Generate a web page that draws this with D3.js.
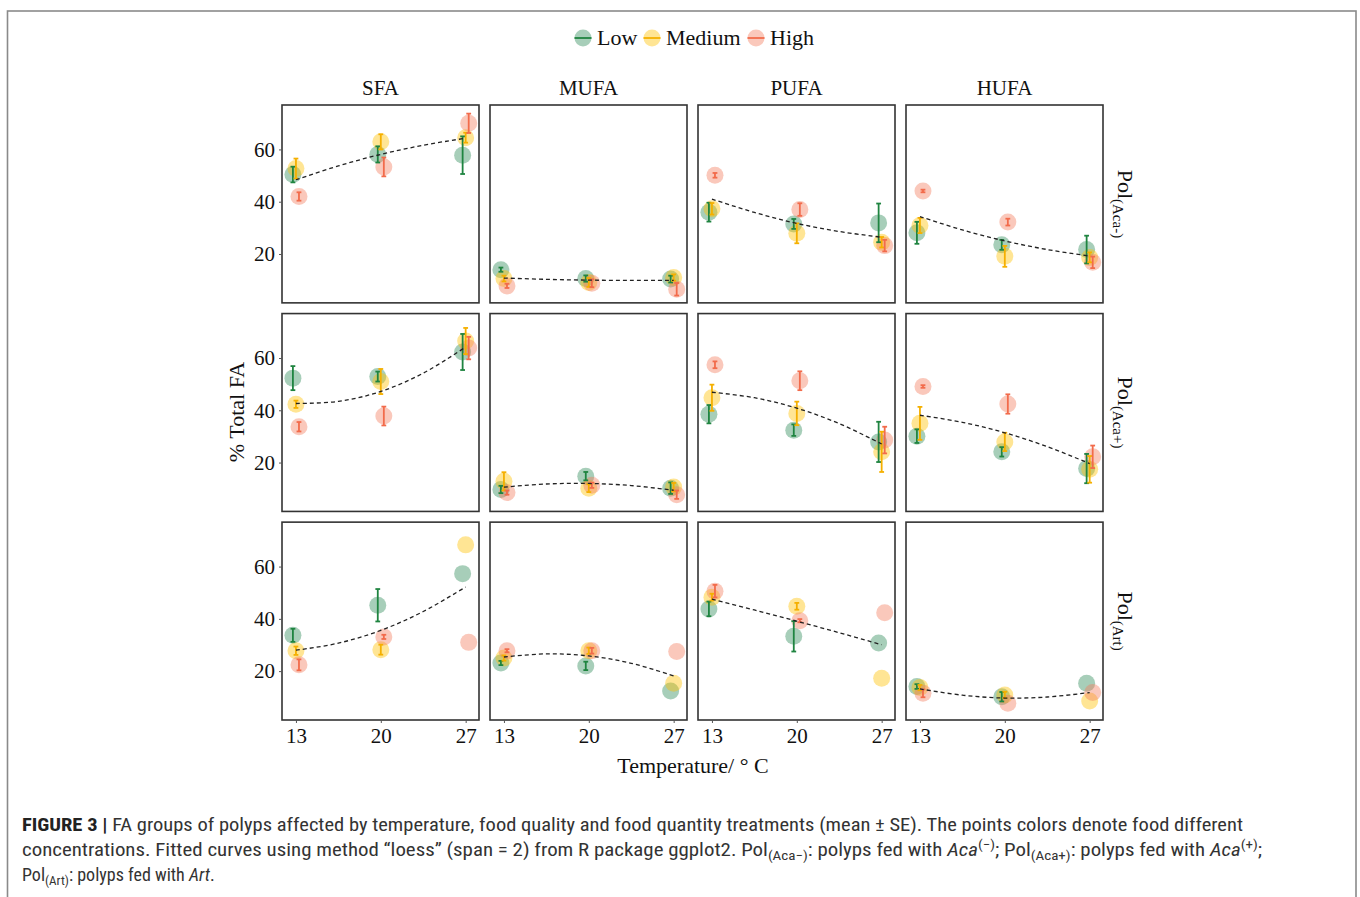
<!DOCTYPE html>
<html>
<head>
<meta charset="utf-8">
<script src="https://cdn.jsdelivr.net/npm/d3@7"></script>
<style>
  body { margin: 0; background: #fff; }
  svg { display: block; }
</style>
</head>
<body>
<svg id="chart"></svg>
<script>
// ---- data ----
const temps = [13, 20, 27]
const foods = ['Low', 'Medium', 'High']
const groups = ['SFA', 'MUFA', 'PUFA', 'HUFA']
const diets = ['Aca-', 'Aca+', 'Art']
const yTicks = [20, 40, 60]
const fitTemps = [13, 16.5, 20, 23.5, 27]

// [group][food][temp]
const acaMinusMean = [
  [[50.4, 58.1, 57.8], [52.7, 62.9, 64.5], [42.0, 53.3, 70.0]],
  [[14.0, 10.6, 10.4], [10.6, 9.1, 11.0], [7.8, 8.8, 6.5]],
  [[36.0, 31.5, 31.9], [37.3, 27.9, 24.5], [50.1, 37.0, 23.2]],
  [[28.1, 23.5, 21.7], [30.9, 19.1, 18.7], [44.1, 32.2, 16.8]]
]
const acaMinusSE = [
  [[3.0, 3.1, 7.2], [3.8, 2.9, 1.9], [1.6, 3.6, 3.7]],
  [[0.8, 1.2, 1.3], [1.1, 1.7, 1.2], [0.8, 1.5, 2.4]],
  [[3.6, 1.9, 7.4], [2.2, 3.8, 2.0], [0.9, 2.4, 2.2]],
  [[4.2, 1.9, 5.3], [2.9, 4.0, 1.9], [0.5, 1.3, 2.2]]
]
const acaPlusMean = [
  [[52.3, 52.9, 62.3], [42.3, 51.0, 66.5], [33.7, 37.8, 63.8]],
  [[9.7, 14.8, 10.2], [12.8, 10.2, 10.6], [8.5, 11.3, 7.7]],
  [[38.5, 32.4, 27.9], [44.8, 38.8, 24.1], [57.4, 51.3, 28.6]],
  [[30.1, 24.1, 17.7], [35.0, 27.9, 17.4], [49.1, 42.4, 22.2]]
]
const acaPlusSE = [
  [[4.6, 1.9, 6.9], [1.4, 4.8, 5.0], [1.8, 3.6, 4.3]],
  [[1.4, 1.6, 2.2], [3.5, 1.5, 1.6], [0.8, 1.0, 1.6]],
  [[3.5, 2.2, 7.7], [5.0, 4.5, 7.7], [1.3, 3.6, 5.1]],
  [[2.6, 1.8, 5.6], [6.3, 3.5, 5.1], [0.5, 3.7, 4.3]]
]
const artMean = [
  [[33.7, 45.2, 57.3], [27.8, 28.2, 68.3], [22.4, 33.1, 31.0]],
  [[23.1, 22.0, 12.4], [25.0, 27.8, 15.4], [27.8, 27.8, 27.5]],
  [[43.8, 33.3, 30.8], [48.3, 44.8, 17.3], [50.6, 39.3, 42.3]],
  [[14.1, 10.2, 15.4], [13.7, 10.9, 8.6], [11.5, 7.7, 11.8]]
]
const artSE = [
  [[2.5, 6.2, 0], [1.6, 1.9, 0], [2.1, 0.8, 0]],
  [[0.8, 1.6, 0], [1.0, 1.2, 0], [0.6, 1.1, 0]],
  [[2.8, 5.8, 0], [1.3, 1.3, 0], [2.4, 0.6, 0]],
  [[0.9, 1.8, 0], [1.0, 1.2, 0], [1.5, 0, 0]]
]
// loess curve read at fitTemps, [group]
const acaMinusFit = [
  [48.4, 53.7, 58.1, 61.6, 64.3],
  [10.8, 10.3, 10.0, 9.9, 9.9],
  [41.0, 35.9, 31.7, 28.6, 26.4],
  [34.3, 29.2, 25.0, 21.7, 19.2]
]
const acaPlusFit = [
  [42.6, 43.4, 47.2, 54.2, 64.2],
  [10.6, 11.8, 12.0, 11.2, 9.4],
  [46.9, 44.8, 40.8, 34.9, 27.1],
  [38.1, 35.4, 31.4, 26.1, 19.6]
]
const artFit = [
  [28.0, 30.7, 35.6, 42.8, 52.2],
  [25.4, 26.6, 25.8, 23.0, 18.2],
  [47.5, 43.4, 39.1, 34.7, 30.1],
  [13.2, 10.8, 9.7, 10.1, 11.8]
]

const means = [acaMinusMean, acaPlusMean, artMean]
const ses = [acaMinusSE, acaPlusSE, artSE]
const fits = [acaMinusFit, acaPlusFit, artFit]

// ---- layout ----
const width = 1360
const height = 897
const serif = '"Liberation Serif", "Times New Roman", serif'
const fillColor = {Low: '#2e8b57', Medium: '#ffc000', High: '#f47c5c'}
const barColor = {Low: '#1f8440', Medium: '#f5b000', High: '#f26b4b'}
const dodge = {Low: -0.25, Medium: 0, High: 0.25}

const svg = d3.select('#chart')
    .attr('width', width)
    .attr('height', height)

// outer frame
svg.append('rect')
    .attr('x', 7.5).attr('y', 11)
    .attr('width', 1348.5).attr('height', 900)
    .attr('fill', 'none')
    .attr('stroke', '#8a8a8a')
    .attr('stroke-width', 1.6)

const colScale = d3.scaleBand().domain(groups).range([282, 1103]).paddingInner(0.0529)
const rowScale = d3.scaleBand().domain(diets).range([105, 720]).paddingInner(0.0513)
const pw = colScale.bandwidth()
const ph = rowScale.bandwidth()

const x = d3.scaleLinear().domain([11.85, 28.1]).range([0, pw])
const y = d3.scaleLinear().domain([1.3, 77]).range([ph, 0])

const line = d3.line()
    .x(d => x(d[0]))
    .y(d => y(d[1]))
    .curve(d3.curveCatmullRom)

diets.forEach((diet, r) => {
  groups.forEach((grp, c) => {
    const g = svg.append('g')
        .attr('transform', `translate(${colScale(grp)},${rowScale(diet)})`)

    const pts = []
    foods.forEach((f, fi) => {
      temps.forEach((t, ti) => {
        pts.push({food: f, t: t, v: means[r][c][fi][ti], se: ses[r][c][fi][ti]})
      })
    })

    g.selectAll('circle').data(pts)
      .enter().append('circle')
        .attr('cx', d => x(d.t + dodge[d.food]))
        .attr('cy', d => y(d.v))
        .attr('r', 8.5)
        .attr('fill', d => fillColor[d.food])
        .attr('fill-opacity', 0.42)

    const bars = g.selectAll('.eb').data(pts.filter(d => d.se > 0))
      .enter().append('g')
        .attr('class', 'eb')
        .attr('stroke', d => barColor[d.food])
        .attr('stroke-width', 1.8)
    bars.append('line')
        .attr('x1', d => x(d.t + dodge[d.food])).attr('x2', d => x(d.t + dodge[d.food]))
        .attr('y1', d => y(d.v - d.se)).attr('y2', d => y(d.v + d.se))
    bars.append('line')
        .attr('x1', d => x(d.t + dodge[d.food]) - 2.4).attr('x2', d => x(d.t + dodge[d.food]) + 2.4)
        .attr('y1', d => y(d.v - d.se)).attr('y2', d => y(d.v - d.se))
    bars.append('line')
        .attr('x1', d => x(d.t + dodge[d.food]) - 2.4).attr('x2', d => x(d.t + dodge[d.food]) + 2.4)
        .attr('y1', d => y(d.v + d.se)).attr('y2', d => y(d.v + d.se))

    g.append('path')
        .datum(fitTemps.map((t, i) => [t, fits[r][c][i]]))
        .attr('d', line)
        .attr('fill', 'none')
        .attr('stroke', '#222')
        .attr('stroke-width', 1.3)
        .attr('stroke-dasharray', '4,3')

    g.append('rect')
        .attr('width', pw).attr('height', ph)
        .attr('fill', 'none')
        .attr('stroke', '#333')
        .attr('stroke-width', 1.6)

    if (c === 0) {
      const ay = g.append('g').call(d3.axisLeft(y).tickValues(yTicks).tickSize(3).tickPadding(4))
      ay.select('.domain').remove()
      ay.selectAll('line').attr('stroke', '#555')
      ay.selectAll('text').attr('font-family', serif).attr('font-size', 21).attr('fill', '#111')
    }
    if (r === diets.length - 1) {
      const ax = g.append('g')
          .attr('transform', `translate(0,${ph})`)
          .call(d3.axisBottom(x).tickValues(temps).tickSize(3).tickPadding(5))
      ax.select('.domain').remove()
      ax.selectAll('line').attr('stroke', '#555')
      ax.selectAll('text').attr('font-family', serif).attr('font-size', 21).attr('fill', '#111')
    }
    if (r === 0) {
      svg.append('text')
          .attr('x', colScale(grp) + pw / 2).attr('y', 95)
          .attr('text-anchor', 'middle')
          .attr('font-family', serif).attr('font-size', 21).attr('fill', '#111')
          .text(grp)
    }
  })

  // strip label on the right
  const st = svg.append('text')
      .attr('transform', `translate(1118,${rowScale(diet) + ph / 2}) rotate(90)`)
      .attr('text-anchor', 'middle')
      .attr('font-family', serif).attr('font-size', 22).attr('fill', '#111')
  st.append('tspan').text('Pol')
  st.append('tspan').attr('font-size', 15).attr('dy', 5).text('(' + diet + ')')
})

// axis titles
svg.append('text')
    .attr('transform', `translate(244,412) rotate(-90)`)
    .attr('text-anchor', 'middle')
    .attr('font-family', serif).attr('font-size', 22).attr('fill', '#111')
    .text('% Total FA')
svg.append('text')
    .attr('x', 693).attr('y', 773)
    .attr('text-anchor', 'middle')
    .attr('font-family', serif).attr('font-size', 22).attr('fill', '#111')
    .text('Temperature/ \u00b0 C')

// legend
const legX = [583, 652, 756]
const lg = svg.append('g')
foods.forEach((f, i) => {
  lg.append('circle')
      .attr('cx', legX[i]).attr('cy', 38).attr('r', 8.5)
      .attr('fill', fillColor[f]).attr('fill-opacity', 0.42)
  lg.append('line')
      .attr('x1', legX[i] - 8.5).attr('x2', legX[i] + 8.5)
      .attr('y1', 38).attr('y2', 38)
      .attr('stroke', barColor[f]).attr('stroke-width', 1.8)
  lg.append('text')
      .attr('x', legX[i] + 14).attr('y', 45)
      .attr('font-family', serif).attr('font-size', 22).attr('fill', '#111')
      .text(f)
})

// caption
const capFont = '"Liberation Sans Narrow", "Arial Narrow", "Roboto Condensed", "Liberation Sans", sans-serif'
const cap1 = svg.append('text')
    .attr('x', 22).attr('y', 831)
    .attr('font-family', capFont).attr('font-size', 18).attr('fill', '#333')
    .attr('textLength', 1221).attr('lengthAdjust', 'spacingAndGlyphs')
cap1.append('tspan').attr('font-weight', 'bold').attr('fill', '#222').text('FIGURE 3 | ')
cap1.append('tspan').text('FA groups of polyps affected by temperature, food quality and food quantity treatments (mean \u00b1 SE). The points colors denote food different')

const cap2 = svg.append('text')
    .attr('x', 22).attr('y', 856)
    .attr('font-family', capFont).attr('font-size', 18).attr('fill', '#333')
    .attr('textLength', 1240).attr('lengthAdjust', 'spacingAndGlyphs')
cap2.append('tspan').text('concentrations. Fitted curves using method \u201cloess\u201d (span = 2) from R package ggplot2. Pol')
cap2.append('tspan').attr('font-size', 13).attr('dy', 4).text('(Aca\u2212)')
cap2.append('tspan').attr('dy', -4).text(': polyps fed with ')
cap2.append('tspan').attr('font-style', 'italic').text('Aca')
cap2.append('tspan').attr('font-size', 13).attr('dy', -7).text('(\u2212)')
cap2.append('tspan').attr('dy', 7).text('; Pol')
cap2.append('tspan').attr('font-size', 13).attr('dy', 4).text('(Aca+)')
cap2.append('tspan').attr('dy', -4).text(': polyps fed with ')
cap2.append('tspan').attr('font-style', 'italic').text('Aca')
cap2.append('tspan').attr('font-size', 13).attr('dy', -7).text('(+)')
cap2.append('tspan').attr('dy', 7).text(';')

const cap3 = svg.append('text')
    .attr('x', 22).attr('y', 881)
    .attr('font-family', capFont).attr('font-size', 18).attr('fill', '#333')
cap3.append('tspan').text('Pol')
cap3.append('tspan').attr('font-size', 13).attr('dy', 4).text('(Art)')
cap3.append('tspan').attr('dy', -4).text(': polyps fed with ')
cap3.append('tspan').attr('font-style', 'italic').text('Art')
cap3.append('tspan').text('.')
</script>
</body>
</html>
